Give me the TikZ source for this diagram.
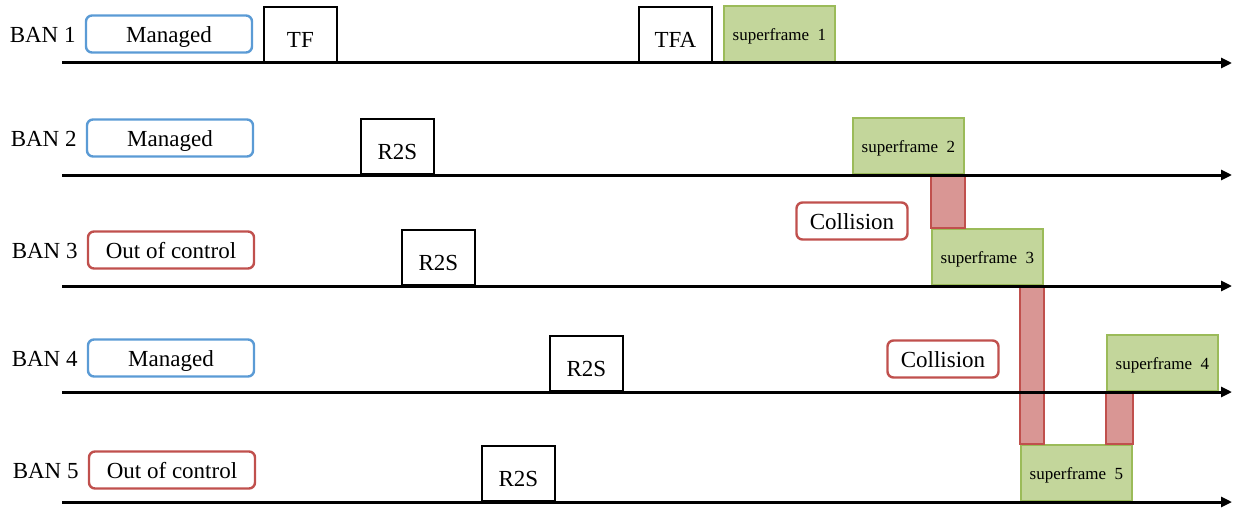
\documentclass[tikz,border=0pt]{standalone}
\usepackage{fontspec}
\setmainfont{Liberation Serif}
\usetikzlibrary{positioning, arrows.meta}

\definecolor{manblue}{RGB}{91,155,213}
\definecolor{outred}{RGB}{192,80,77}
\definecolor{collfill}{RGB}{217,150,148}
\definecolor{sfgreen}{RGB}{155,187,89}
\definecolor{sffill}{RGB}{195,214,155}

\tikzset{
  bigtext/.style = {font = \fontsize{23}{27}\selectfont},
  banlabel/.style = {bigtext, inner sep = 0pt},
  managed/.style = {bigtext, draw = manblue, line width = 2.4pt, rounded corners = 6pt,
    minimum width = 166pt, minimum height = 37pt, inner sep = 0pt,
    text height = 21pt, text depth = 4pt},
  outctrl/.style = {managed, draw = outred},
  framebox/.style = {bigtext, draw, line width = 1.8pt, minimum width = 73pt, inner sep = 0pt,
    text height = 40pt, text depth = 15pt, anchor = south west},
  sfbox/.style = {draw = sfgreen, fill = sffill, line width = 1.8pt, font = \fontsize{17}{20}\selectfont,
    minimum width = 111pt, minimum height = 56pt, inner sep = 0pt, anchor = south west,
    text height = 13pt, text depth = 1pt},
  collbox/.style = {draw = outred, fill = collfill, line width = 1.8pt},
  timeaxis/.style = {line width = 3pt, -{Triangle[length = 11pt, width = 10pt]}}
}

\begin{document}
\begin{tikzpicture}[x = 1pt, y = -1pt] % BAN superframe timing
        \useasboundingbox (0, 0) rectangle (1233, 508);

        % States
        \node[managed] (st1) at (169, 34) {Managed};
        \node[managed] (st2) at (170, 138) {Managed};
        \node[outctrl] (st3) at (171, 250) {Out of control};
        \node[managed] (st4) at (171, 358) {Managed};
        \node[outctrl] (st5) at (172, 470) {Out of control};
        \foreach \i in {1, ..., 5}
            \node[banlabel, left = 9pt of st\i.base west, anchor = base east] (ban\i) {BAN \i};

        % Beacons and requests
        \node[framebox] (tf) at (263, 63) {TF};
        \node[framebox] (tfa) at (638, 63) {TFA};
        \node[framebox] (rq2) at (360, 175) {R2S};
        \node[framebox] (rq3) at (401, 286) {R2S};
        \node[framebox] (rq4) at (549, 392) {R2S};
        \node[framebox] (rq5) at (481, 502) {R2S};

        % Superframes
        \node[sfbox] (sf1) at (723, 63) {superframe~ 1};
        \node[sfbox] (sf2) at (852, 175) {superframe~ 2};
        \node[sfbox] (sf3) at (931, 286) {superframe~ 3};
        \node[sfbox] (sf4) at (1106, 392) {superframe~ 4};
        \node[sfbox] (sf5) at (1020, 502) {superframe~ 5};

        % Collisions
        \draw[collbox] (sf3.north west) rectangle (sf2.south east);
        \draw[collbox] (sf5.north west) rectangle (sf3.south east);
        \draw[collbox] (sf4.south west) rectangle (sf5.north east);
        \node[outctrl, minimum width = 111pt] (cl1) at (852, 221) {Collision};
        \node[outctrl, minimum width = 111pt] (cl2) at (943, 359) {Collision};

        % Time axes
        \foreach \i/\y in {1/63, 2/175, 3/286, 4/392, 5/502} {
            \coordinate (t\i) at (62, \y);
            \coordinate (e\i) at (1232, \y);
            \draw[timeaxis] (t\i) -- (e\i);
        }
    \end{tikzpicture}
\end{document}
